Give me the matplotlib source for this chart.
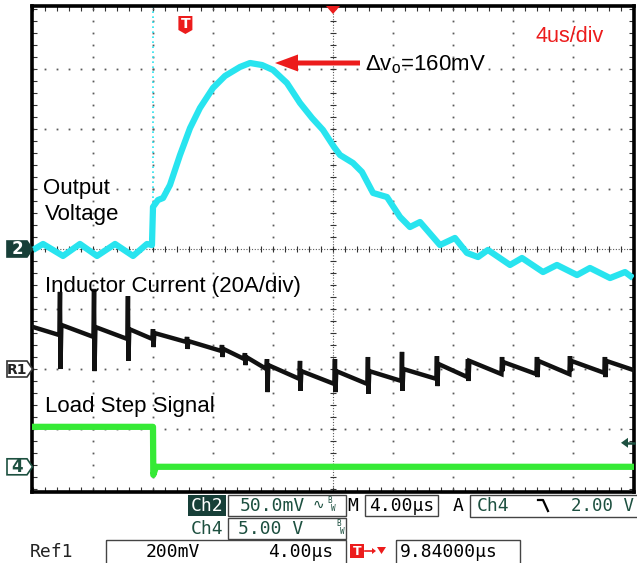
import numpy as np
import matplotlib.pyplot as plt
from matplotlib.patches import Rectangle, Polygon, FancyArrow

plt.rcParams['font.family'] = ['Liberation Sans', 'DejaVu Sans']
plt.rcParams['mathtext.default'] = 'regular'

# ====== Scope settings ======
TIME_PER_DIV = 4.0      # us/div
CH2_SCALE = 50.0        # mV/div  (output voltage)
REF1_SCALE = 20.0       # A/div   (inductor current)
CH4_SCALE = 5.0         # V/div   (load step)
CH2_POS = 0.0           # ground marker positions, divisions from centre
REF1_POS = -2.0
CH4_POS = -3.63
TRIG_LEVEL = 2.0        # V on Ch4
TRIG_DELAY = 9.84       # us, trigger -> screen centre

# ====== Traces ======
# output voltage deviation (mV) vs time (us from left edge)
vo_t = [0.0, 0.67, 2.0, 3.13, 4.27, 5.47, 6.67, 7.6, 7.93,
        8.0, 8.33, 8.67, 9.13, 9.8, 10.47, 11.13, 12.0, 12.8, 13.8,
        14.47, 15.27, 16.0, 16.93, 17.8, 18.6, 19.33, 20.07, 20.47, 21.33,
        21.93, 22.67, 23.6, 24.47, 25.13, 25.8, 27.13, 28.13, 28.93, 29.67,
        30.33, 31.8, 32.6, 34.0, 34.93, 36.27, 37.13, 38.47, 39.47, 40.0]
vo_mv = [-0.8, 4.2, -5.8, 4.2, -5.8, 4.2, -5.8, 4.2, 3.3,
         35.0, 40.8, 42.5, 53.3, 78.3, 100.8, 117.5, 134.2, 144.2, 151.7,
         155.0, 153.3, 149.2, 138.3, 121.7, 109.2, 99.2, 85.0, 78.3, 71.7,
         64.2, 46.7, 43.3, 26.7, 18.3, 22.5, 3.3, 9.2, -3.3, -6.7,
         -0.8, -13.3, -7.5, -19.2, -13.3, -21.7, -15.8, -24.2, -19.2, -24.2]

# inductor current (A): switching spikes and the level around each one
il_start = 14.0
il_end = -0.3
il_spike_t = [1.8, 4.07, 6.33, 8.0, 10.27, 12.6, 14.13, 15.6, 17.8, 20.13,
              22.33, 24.6, 26.93, 29.0, 31.27, 33.6, 35.8, 38.13]
il_pre = [11.3, 10.7, 10.0, 10.0, 9.0, 6.0, 3.3, 0.0, -3.3, -5.0,
          -5.0, -4.0, -3.3, -2.7, -1.7, -1.7, -1.7, -1.3]
il_top = [25.7, 26.7, 24.3, 13.3, 10.7, 8.0, 5.3, 3.3, 2.7, 3.3,
          4.0, 5.7, 4.3, 3.3, 4.0, 4.0, 4.3, 4.0]
il_bottom = [0.0, -0.7, 2.7, 7.3, 6.7, 4.0, 1.3, -7.7, -7.3, -7.7,
             -8.3, -7.3, -5.7, -4.0, -0.7, -2.7, -0.7, -2.7]
il_post = [14.7, 14.0, 13.3, 12.0, 9.3, 6.7, 4.0, 1.3, -0.7, -0.7,
           -0.7, 0.0, 1.7, 2.7, 2.3, 2.7, 2.7, 2.7]

# load step signal (V)
ls_t = [0.0, 8.0, 8.02, 8.2, 40.0]
ls_v = [3.33, 3.33, -0.67, 0.0, 0.0]

CYAN = '#28e4ef'
GREEN = '#36ea36'
RED = '#ec1c1c'
DKGREEN = '#1d5040'
GRIDC = '#5a5a5a'

# build inductor trace from spike table
il_t = [0.0]
il_a = [il_start]
for ts, pre, top, bot, post in zip(il_spike_t, il_pre, il_top, il_bottom, il_post):
    il_t += [ts - 0.04, ts, ts + 0.03, ts + 0.09]
    il_a += [pre, top, bot, post]
il_t.append(40.0)
il_a.append(il_end)

# ====== Figure ======
W, H = 637, 563
fig = plt.figure(figsize=(W / 100, H / 100), dpi=100)
fig.patch.set_facecolor('white')

# screen: 10 x 8 divisions, 60 px each, div (0,0) at pixel (33, 249)
X0, Y0, PX = 33, 249, 60
ax = fig.add_axes([32 / W, (H - 492) / H, 602 / W, 486 / H])
ax.set_xlim(-1 / PX, (634 - X0) / PX)
ax.set_ylim((Y0 - 492) / PX, (Y0 - 6) / PX)
for s in ax.spines.values():
    s.set_linewidth(2.6)
    s.set_color('black')
ax.set_xticks(np.arange(0, 10.01, 0.2))
ax.set_yticks(np.arange(-4, 4.01, 0.2))
ax.tick_params(direction='in', length=3.5, width=0.8, color='#333',
               top=True, right=True, labelbottom=False, labelleft=False)

# graticule: dotted divisions, tick marks on the centre cross
fine_x = np.arange(0, 10.01, 0.2)
fine_y = np.arange(-4, 4.01, 0.2)
for gx in range(1, 10):
    if gx != 5:
        ax.plot(np.full_like(fine_y, gx), fine_y, ls='none',
                marker='s', ms=1.3, color=GRIDC, mew=0)
for gy in range(-3, 4):
    if gy != 0:
        ax.plot(fine_x, np.full_like(fine_x, gy), ls='none',
                marker='s', ms=1.3, color=GRIDC, mew=0)
ax.axhline(0, color=GRIDC, lw=0.8, ls=(0, (1, 1.5)))
ax.axvline(5, color=GRIDC, lw=0.8, ls=(0, (1, 1.5)))
ax.plot(fine_x, np.zeros_like(fine_x), ls='none', marker='|', ms=5, mew=0.8, color='#333')
ax.plot(np.full_like(fine_y, 5), fine_y, ls='none', marker='_', ms=5, mew=0.8, color='#333')

# traces
vo_x = np.array(vo_t) / TIME_PER_DIV
ax.plot([vo_x[9], vo_x[9]], [0.1, 4.05], color=CYAN, lw=1.2, ls=(0, (1, 2)))
ax.plot(vo_x, CH2_POS + np.array(vo_mv) / CH2_SCALE, color=CYAN, lw=4.5,
        solid_joinstyle='round', solid_capstyle='butt', zorder=4)
ax.plot(np.array(il_t) / TIME_PER_DIV, REF1_POS + np.array(il_a) / REF1_SCALE,
        color='#111111', lw=3.2, solid_joinstyle='miter', zorder=4)
ax.plot(np.array(ls_t) / TIME_PER_DIV, CH4_POS + np.array(ls_v) / CH4_SCALE,
        color=GREEN, lw=4.5, zorder=4)

# ====== Overlay in pixel coordinates ======
ov = fig.add_axes([0, 0, 1, 1])
ov.set_xlim(0, W)
ov.set_ylim(H, 0)
ov.axis('off')


def div_px(xd, yd):
    return X0 + xd * PX, Y0 - yd * PX


# channel ground markers on the left
def marker(yd, label, fc, ec, tc, size=12):
    _, py = div_px(0, yd)
    ov.add_patch(Polygon([(7, py - 8), (27, py - 8), (32.5, py), (27, py + 8), (7, py + 8)],
                         closed=True, fc=fc, ec=ec, lw=1.2))
    ov.text(17, py + 0.5, label, ha='center', va='center', color=tc, fontsize=size,
            family='DejaVu Sans', fontweight='bold')


marker(CH2_POS, '2', '#173f38', '#173f38', 'white')
marker(REF1_POS, 'R1', 'white', '#333333', '#222222', size=10)
marker(CH4_POS, '4', 'white', DKGREEN, DKGREEN)

# trigger level arrow on the right
_, ty = div_px(0, CH4_POS + TRIG_LEVEL / CH4_SCALE)
ov.add_patch(Polygon([(621, ty), (628, ty - 5), (628, ty + 5)], closed=True, fc=DKGREEN, ec='none'))
ov.plot([627, 634], [ty, ty], color=DKGREEN, lw=1.8)

# trigger position badge and centre marker at the top
tx, _ = div_px((5 * TIME_PER_DIV - TRIG_DELAY) / TIME_PER_DIV, 0)
ov.add_patch(Polygon([(tx - 7, 16), (tx + 7, 16), (tx + 7, 30), (tx, 34), (tx - 7, 30)],
                     closed=True, fc=RED, ec='none'))
ov.text(tx, 24.5, 'T', ha='center', va='center', color='white', fontsize=10,
        fontweight='bold', family='DejaVu Sans')
cx, _ = div_px(5, 0)
ov.add_patch(Polygon([(cx - 7, 6), (cx + 7, 6), (cx, 14)], closed=True, fc=RED, ec='none'))

# annotations
ov.text(43, 194, 'Output', fontsize=16)
ov.text(45, 220, 'Voltage', fontsize=16)
ov.text(45, 292, 'Inductor Current (20A/div)', fontsize=16)
ov.text(45, 412, 'Load Step Signal', fontsize=16)
ov.text(535, 42, '4us/div', fontsize=15.5, color=RED)
ov.text(365, 70, 'Δv$_o$=160mV', fontsize=16)
ov.add_patch(FancyArrow(360, 63, -85, 0, width=5, head_width=17, head_length=23,
                        length_includes_head=True, color=RED, lw=0))

# ====== Status bar ======
mono = ['DejaVu Sans Mono', 'DejaVu Sans']
BOX = dict(fill=False, ec='#444444', lw=1.0)
FS = 13

# row 1
ov.add_patch(Rectangle((188, 495), 38, 21, fc='#173f38', ec='none'))
ov.text(207, 511, 'Ch2', ha='center', color='white', fontsize=FS, family=mono)
ov.add_patch(Rectangle((228, 495), 118, 21, **BOX))
ov.text(240, 511, '50.0mV', color=DKGREEN, fontsize=FS, family=mono)
ov.text(313, 509, '∿', color=DKGREEN, fontsize=10, family=mono)
ov.text(327, 503, 'B', color=DKGREEN, fontsize=5.5, family=mono)
ov.text(331, 511, 'W', color=DKGREEN, fontsize=5.5, family=mono)
ov.text(347, 511, 'M', color='black', fontsize=FS, family=mono)
ov.add_patch(Rectangle((365, 495), 73, 21, **BOX))
ov.text(369, 511, '4.00µs', color='black', fontsize=FS, family=mono)
ov.text(453, 511, 'A', color='black', fontsize=FS, family=mono)
ov.add_patch(Rectangle((470, 495), 180, 22, **BOX))
ov.text(477, 511, 'Ch4', color=DKGREEN, fontsize=FS, family=mono)
ov.plot([538, 543, 548], [500, 500, 511], color='black', lw=1.6)
ov.text(634, 511, '2.00 V', ha='right', color=DKGREEN, fontsize=12.5, family=mono)

# row 2
ov.text(207, 534, 'Ch4', ha='center', color=DKGREEN, fontsize=FS, family=mono)
ov.add_patch(Rectangle((228, 518), 118, 21, **BOX))
ov.text(238, 534, '5.00 V', color=DKGREEN, fontsize=FS, family=mono)
ov.text(336, 526, 'B', color=DKGREEN, fontsize=5.5, family=mono)
ov.text(340, 534, 'W', color=DKGREEN, fontsize=5.5, family=mono)

# row 3
ov.text(30, 557, 'Ref1', color='#222222', fontsize=FS, family=mono)
ov.add_patch(Rectangle((106, 540), 240, 30, **BOX))
ov.text(146, 557, '200mV', color='black', fontsize=FS, family=mono)
ov.text(268, 557, '4.00µs', color='black', fontsize=FS, family=mono)
ov.add_patch(Rectangle((350, 544), 14, 14, fc=RED, ec='none'))
ov.text(357, 551.5, 'T', ha='center', va='center', color='white', fontsize=9,
        fontweight='bold', family='DejaVu Sans')
ov.plot([365, 373], [551, 551], color=RED, lw=1.2)
ov.add_patch(Polygon([(372, 548), (376, 551), (372, 554)], closed=True, fc=RED, ec='none'))
ov.add_patch(Polygon([(377, 547), (386, 547), (381.5, 554)], closed=True, fc=RED, ec='none'))
ov.add_patch(Rectangle((396, 540), 124, 30, **BOX))
ov.text(400, 557, '9.84000µs', color='black', fontsize=FS, family=mono)

fig.savefig('out.png', dpi=100, facecolor='white')
print('saved out.png')
